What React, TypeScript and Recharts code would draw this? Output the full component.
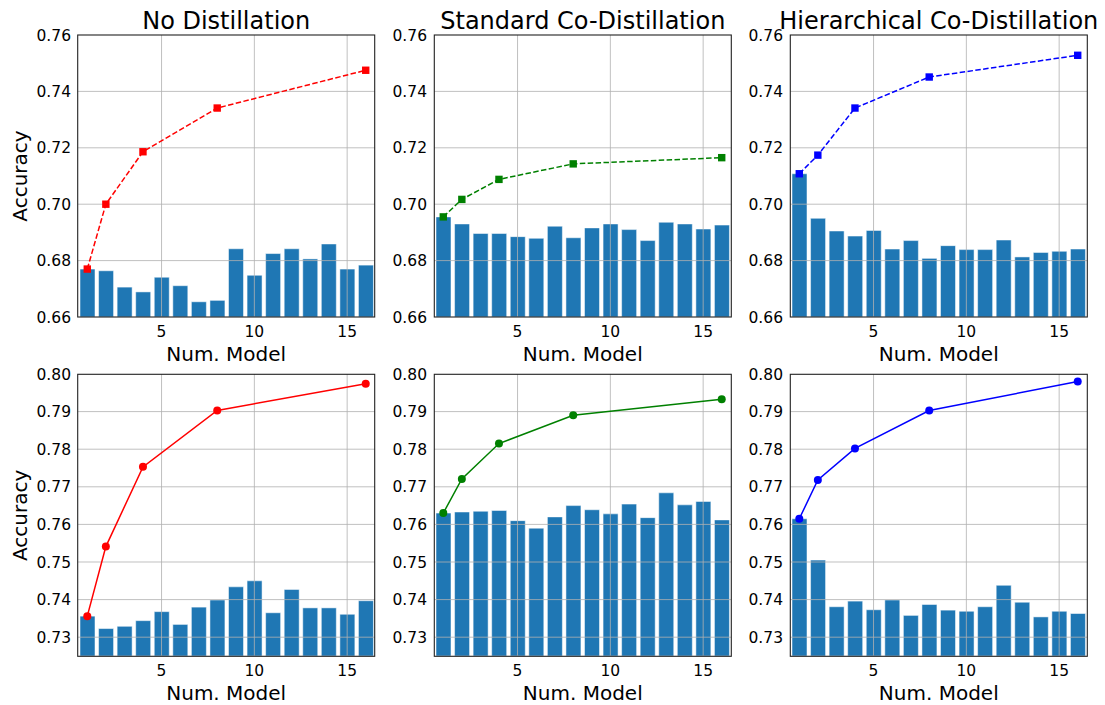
import React from 'react';
import {
  ComposedChart, Bar, Line, XAxis, YAxis, ReferenceLine,
} from 'recharts';

// ── data ──────────────────────────────────────────────────────────────────────

const MODELS = [1, 2, 3, 4, 5, 6, 7, 8, 9, 10, 11, 12, 13, 14, 15, 16];
const LINE_X = [1, 2, 4, 8, 16];
const X_TICKS = [5, 10, 15];

const TOP_TICKS = [0.66, 0.68, 0.70, 0.72, 0.74, 0.76];
const BOTTOM_TICKS = [0.73, 0.74, 0.75, 0.76, 0.77, 0.78, 0.79, 0.80];

const TITLES = ['No Distillation', 'Standard Co-Distillation', 'Hierarchical Co-Distillation'];

const TOP_NO_BARS = [0.6770, 0.6764, 0.6706, 0.6689, 0.6741, 0.6711, 0.6654, 0.6659,
  0.6842, 0.6748, 0.6825, 0.6842, 0.6806, 0.6859, 0.6770, 0.6784];
const TOP_NO_LINE = [0.6770, 0.7000, 0.7186, 0.7341, 0.7475];

const TOP_STD_BARS = [0.6955, 0.6930, 0.6896, 0.6896, 0.6885, 0.6879, 0.6922, 0.6881,
  0.6916, 0.6930, 0.6910, 0.6871, 0.6936, 0.6930, 0.6912, 0.6926];
const TOP_STD_LINE = [0.6955, 0.7017, 0.7088, 0.7143, 0.7165];

const TOP_HIER_BARS = [0.7108, 0.6950, 0.6905, 0.6887, 0.6907, 0.6841, 0.6871, 0.6808,
  0.6853, 0.6839, 0.6839, 0.6873, 0.6813, 0.6829, 0.6833, 0.6841];
const TOP_HIER_LINE = [0.7108, 0.7174, 0.7341, 0.7451, 0.7528];

const BOT_NO_BARS = [0.7356, 0.7323, 0.7329, 0.7344, 0.7368, 0.7334, 0.7380, 0.7399,
  0.7434, 0.7450, 0.7365, 0.7427, 0.7378, 0.7378, 0.7361, 0.7397];
const BOT_NO_LINE = [0.7356, 0.7541, 0.7753, 0.7903, 0.7974];

const BOT_STD_BARS = [0.7630, 0.7633, 0.7635, 0.7637, 0.7610, 0.7590, 0.7620, 0.7650,
  0.7639, 0.7628, 0.7654, 0.7618, 0.7684, 0.7652, 0.7661, 0.7612];
const BOT_STD_LINE = [0.7630, 0.7721, 0.7815, 0.7890, 0.7933];

const BOT_HIER_BARS = [0.7615, 0.7505, 0.7381, 0.7396, 0.7373, 0.7399, 0.7358, 0.7387,
  0.7372, 0.7369, 0.7381, 0.7438, 0.7393, 0.7354, 0.7369, 0.7363];
const BOT_HIER_LINE = [0.7615, 0.7718, 0.7802, 0.7903, 0.7980];

// ── layout ────────────────────────────────────────────────────────────────────

const FONT = '"DejaVu Sans", sans-serif';
const COL_LEFT = [77.7, 434.3, 790.3];
const ROW_TOP = [35, 374.3];
const PW = 297;
const PH = 282;
const YW = 60;
const MT = 10;
const MR = 20;
const XH = 40;

type Panel = {
  bars: number[];
  line: number[];
  color: string;
  dashed: boolean;
  domain: [number, number];
  ticks: number[];
};

const fmt2 = (v: number) => v.toFixed(2);

const PANELS: Panel[][] = [
  [
    { bars: TOP_NO_BARS, line: TOP_NO_LINE, color: '#ff0000', dashed: true, domain: [0.66, 0.76], ticks: TOP_TICKS },
    { bars: TOP_STD_BARS, line: TOP_STD_LINE, color: '#008000', dashed: true, domain: [0.66, 0.76], ticks: TOP_TICKS },
    { bars: TOP_HIER_BARS, line: TOP_HIER_LINE, color: '#0000ff', dashed: true, domain: [0.66, 0.76], ticks: TOP_TICKS },
  ],
  [
    { bars: BOT_NO_BARS, line: BOT_NO_LINE, color: '#ff0000', dashed: false, domain: [0.725, 0.80], ticks: BOTTOM_TICKS },
    { bars: BOT_STD_BARS, line: BOT_STD_LINE, color: '#008000', dashed: false, domain: [0.725, 0.80], ticks: BOTTOM_TICKS },
    { bars: BOT_HIER_BARS, line: BOT_HIER_LINE, color: '#0000ff', dashed: false, domain: [0.725, 0.80], ticks: BOTTOM_TICKS },
  ],
];

// ── panel ─────────────────────────────────────────────────────────────────────

function PanelChart({ p, left, top }: { p: Panel; left: number; top: number }) {
  const data = MODELS.map((m, i) => {
    const li = LINE_X.indexOf(m);
    return { m, bar: p.bars[i], line: li >= 0 ? p.line[li] : null };
  });

  const renderDot = (props: any) => {
    const { cx, cy, payload, index } = props;
    if (payload == null || payload.line == null || cy == null) return <g key={`d${index}`} />;
    if (p.dashed) {
      return <rect key={`d${index}`} x={cx - 3.7} y={cy - 3.7} width={7.4} height={7.4} fill={p.color} />;
    }
    return <circle key={`d${index}`} cx={cx} cy={cy} r={4} fill={p.color} />;
  };

  const gridY = p.ticks.filter((t) => t > p.domain[0] && t < p.domain[1]);

  return (
    <div style={{ position: 'absolute', left: left - YW, top: top - MT }}>
      <ComposedChart
        width={YW + PW + MR}
        height={MT + PH + XH}
        data={data}
        margin={{ top: MT, right: MR, bottom: 0, left: 0 }}
      >
        <XAxis
          dataKey="m"
          type="number"
          domain={[0.5, 16.5]}
          allowDataOverflow
          ticks={X_TICKS}
          height={XH}
          axisLine={false}
          tickSize={5}
          tickMargin={4}
          tickLine={{ stroke: 'none' }}
          tick={{ fontSize: 15.5, fill: '#000', fontFamily: FONT }}
        />
        <YAxis
          type="number"
          domain={p.domain}
          allowDataOverflow
          ticks={p.ticks}
          interval={0}
          width={YW}
          axisLine={false}
          tickSize={5}
          tickMargin={2}
          tickLine={{ stroke: 'none' }}
          tickFormatter={fmt2}
          tick={{ fontSize: 15.5, fill: '#000', fontFamily: FONT }}
        />
        <Bar
          dataKey="bar"
          fill="#1f77b4"
          stroke="#ffffff"
          strokeOpacity={0.5}
          strokeWidth={1}
          barSize={15}
          isAnimationActive={false}
        />
        {X_TICKS.map((x) => (
          <ReferenceLine key={`gx${x}`} x={x} stroke="#b0b0b0" strokeOpacity={0.8} strokeWidth={1} />
        ))}
        {gridY.map((y) => (
          <ReferenceLine key={`gy${y}`} y={y} stroke="#b0b0b0" strokeOpacity={0.8} strokeWidth={1} />
        ))}
        <Line
          dataKey="line"
          stroke={p.color}
          strokeWidth={1.5}
          strokeDasharray={p.dashed ? '5.5 2.4' : undefined}
          connectNulls
          dot={renderDot}
          activeDot={false}
          isAnimationActive={false}
        />
      </ComposedChart>
    </div>
  );
}

// ── main ──────────────────────────────────────────────────────────────────────

export default function App() {
  return (
    <div style={{ position: 'relative', width: 1105, height: 705, background: '#fff', fontFamily: FONT }}>
      <style>{'body{margin:0;background:#fff}'}</style>
      {PANELS.map((row, r) =>
        row.map((p, c) => (
          <PanelChart key={`${r}-${c}`} p={p} left={COL_LEFT[c]} top={ROW_TOP[r]} />
        )),
      )}
      <svg
        width={1105}
        height={705}
        style={{ position: 'absolute', left: 0, top: 0, pointerEvents: 'none' }}
      >
        {ROW_TOP.map((t) =>
          COL_LEFT.map((l) => (
            <rect key={`f${t}-${l}`} x={l} y={t} width={PW} height={PH} fill="none" stroke="#222" strokeWidth={1.1} />
          )),
        )}
        {TITLES.map((title, c) => (
          <text
            key={title}
            x={COL_LEFT[c] + PW / 2}
            y={28.5}
            textAnchor="middle"
            fontSize={24}
            fontFamily={FONT}
            fill="#000"
          >
            {title}
          </text>
        ))}
        {ROW_TOP.map((t) =>
          COL_LEFT.map((l) => (
            <text
              key={`xl${t}-${l}`}
              x={l + PW / 2}
              y={t + PH + 44}
              textAnchor="middle"
              fontSize={20}
              fontFamily={FONT}
              fill="#000"
            >
              Num. Model
            </text>
          )),
        )}
        {ROW_TOP.map((t) => (
          <text
            key={`yl${t}`}
            transform={`translate(27, ${t + PH / 2}) rotate(-90)`}
            textAnchor="middle"
            fontSize={20}
            fontFamily={FONT}
            fill="#000"
          >
            Accuracy
          </text>
        ))}
      </svg>
    </div>
  );
}
